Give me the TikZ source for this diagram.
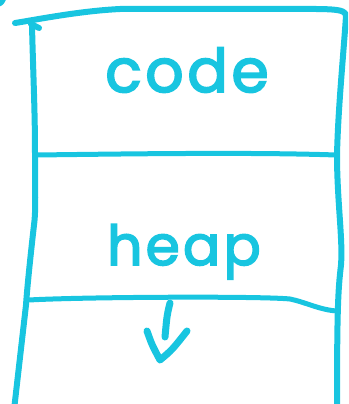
\documentclass[tikz,border=0pt]{standalone}
\usepackage{fontspec}
\setmainfont{Poppins}
\newfontfamily\handfont{Poppins}[LetterSpace=6, FakeBold=3]
\definecolor{marker}{RGB}{24,197,224}
\tikzset{
  ink/.style={draw=marker, line width=6pt, line cap=round, line join=round},
  thinink/.style={ink, line width=5pt},
  word/.style={text=marker, inner sep=0pt, anchor=base}
}
\begin{document}
\begin{tikzpicture}[x=1pt, y=-1pt]
\useasboundingbox (0,0) rectangle (348,404);
\begin{scope}
\clip (0,0) rectangle (348,404);
% stray mark in the corner
\draw[ink] (-3,4) .. controls (1,3) .. (4,-3);
% top edge, curling into the right side
\draw[ink] (15,23) .. controls (40,19) and (80,11) .. (120,9)
  -- (280,9) .. controls (330,9) and (346,8) .. (346,16)
  .. controls (343,60) and (338,110) .. (337,155)
  .. controls (337,200) and (343,240) .. (341,265)
  .. controls (338,290) and (337,310) .. (337,410);
% left side
\draw[ink] (31,24) -- (39,28);
\draw[ink] (32,25) .. controls (33,70) and (35,110) .. (35,153)
  .. controls (35,190) and (36,210) .. (34,225)
  .. controls (30,260) and (27,290) .. (26,305)
  -- (14,410);
\end{scope}
% separators
\draw[thinink] (36,155) .. controls (120,154) and (250,152) .. (336,155);
\draw[thinink] (29,300) .. controls (80,297) and (260,296) .. (290,299)
  .. controls (305,302) and (320,310) .. (337,311);
% labels
\node[word, font=\handfont\fontsize{60}{60}\selectfont] (code) at (187,92) {code};
\node[word, font=\handfont\fontsize{55}{55}\selectfont] (heap) at (184,265) {heap};
% downward arrow
\coordinate (shafttop) at (170,303);
\coordinate (tip) at (160,360);
\draw[ink, line width=7pt] (shafttop) .. controls (167,315) .. (165,337);
\draw[ink, line width=7pt] (147,331) .. controls (152,345) .. (tip)
  .. controls (172,350) .. (187,331);
\end{tikzpicture}
\end{document}
